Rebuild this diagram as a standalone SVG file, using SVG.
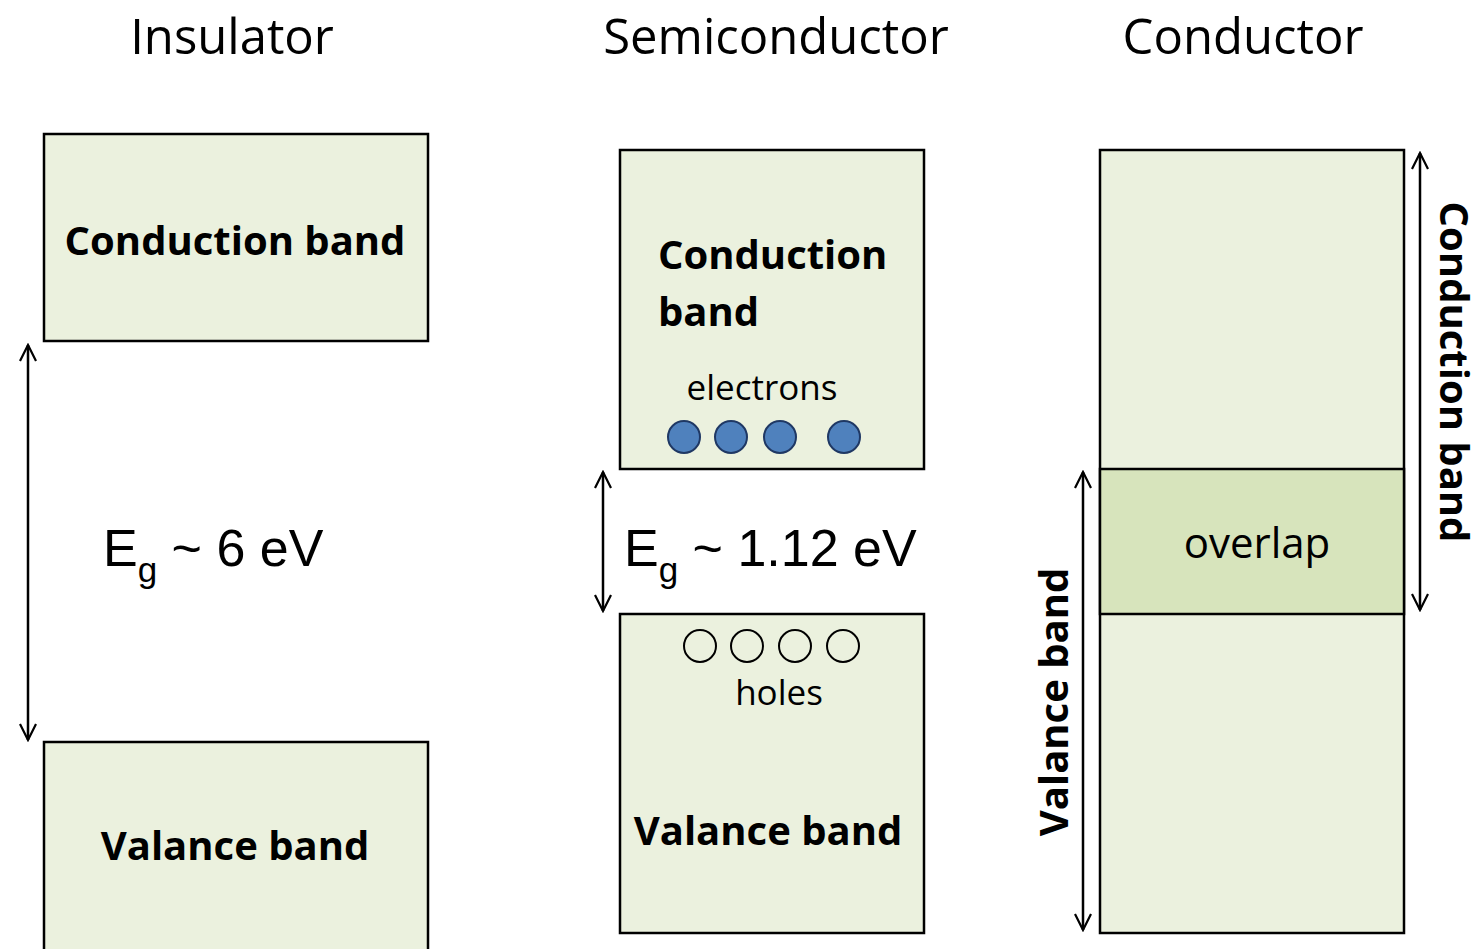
<svg xmlns="http://www.w3.org/2000/svg" width="1484" height="949" viewBox="0 0 1484 949">
<defs>
<marker id="ah" viewBox="0 0 20 20" refX="18" refY="10" markerWidth="20" markerHeight="20" markerUnits="userSpaceOnUse" orient="auto-start-reverse">
<path d="M2 2 L18 10 L2 18" fill="none" stroke="#000" stroke-width="2.2"/>
</marker>
<style>
.box{fill:#EBF1DE;stroke:#000;stroke-width:2.5}
.ov{fill:#D7E4BC;stroke:#000;stroke-width:2.5}
.t{font-family:"Open Sans","Liberation Sans",sans-serif;fill:#000}
.title{font-size:49px;text-anchor:middle}
.b{font-size:40px;font-weight:bold}
.s{font-size:35px;text-anchor:middle}
.ovt{font-size:42px;text-anchor:middle}
.eg{font-family:"Liberation Sans",Arial,sans-serif;font-size:52px}
.arr{stroke:#000;stroke-width:2.5;fill:none;marker-start:url(#ah);marker-end:url(#ah)}
.el{fill:#4F81BD;stroke:#1F3864;stroke-width:2}
.ho{fill:none;stroke:#000;stroke-width:2}
</style>
</defs>
<g id="titles">
<text class="t title" x="232" y="54">Insulator</text>
<text class="t title" x="776" y="54">Semiconductor</text>
<text class="t title" x="1243" y="54">Conductor</text>
</g>
<g id="ins-cb">
<rect class="box" x="44" y="134" width="384" height="207"/>
<text class="t b" x="235" y="255" text-anchor="middle">Conduction band</text>
</g>
<g id="ins-vb">
<rect class="box" x="44" y="742" width="384" height="220"/>
<text class="t b" x="235" y="860" text-anchor="middle">Valance band</text>
</g>
<g id="ins-eg">
<text class="eg" x="103" y="566">E<tspan font-size="35" dy="16">g</tspan><tspan dy="-16"> ~ 6 eV</tspan></text>
</g>
<g id="semi-cb">
<rect class="box" x="620" y="150" width="304" height="319"/>
<text class="t b" x="658" y="269">Conduction</text>
<text class="t b" x="658" y="326">band</text>
<text class="t s" x="762" y="400">electrons</text>
<circle class="el" cx="684" cy="437" r="16"/>
<circle class="el" cx="731" cy="437" r="16"/>
<circle class="el" cx="780" cy="437" r="16"/>
<circle class="el" cx="844" cy="437" r="16"/>
</g>
<g id="semi-vb">
<rect class="box" x="620" y="614" width="304" height="319"/>
<circle class="ho" cx="700" cy="646" r="16"/>
<circle class="ho" cx="747" cy="646" r="16"/>
<circle class="ho" cx="795" cy="646" r="16"/>
<circle class="ho" cx="843" cy="646" r="16"/>
<text class="t s" x="779" y="705">holes</text>
<text class="t b" x="768" y="845" text-anchor="middle">Valance band</text>
</g>
<g id="semi-eg">
<text class="eg" x="624" y="566">E<tspan font-size="35" dy="16">g</tspan><tspan dy="-16"> ~ 1.12 eV</tspan></text>
</g>
<g id="cond">
<rect class="box" x="1100" y="150" width="304" height="783"/>
<rect class="ov" x="1100" y="469" width="304" height="145"/>
<text class="t ovt" x="1257" y="558">overlap</text>
<text class="t b" transform="translate(1440,372) rotate(90)" text-anchor="middle">Conduction band</text>
<text class="t b" transform="translate(1068,702) rotate(-90)" text-anchor="middle">Valance band</text>
</g>
<g id="connectors">
<line class="arr" x1="28" y1="345" x2="28" y2="740"/>
<line class="arr" x1="603" y1="472" x2="603" y2="611"/>
<line class="arr" x1="1420" y1="153" x2="1420" y2="610"/>
<line class="arr" x1="1083" y1="472" x2="1083" y2="930"/>
</g>
</svg>
